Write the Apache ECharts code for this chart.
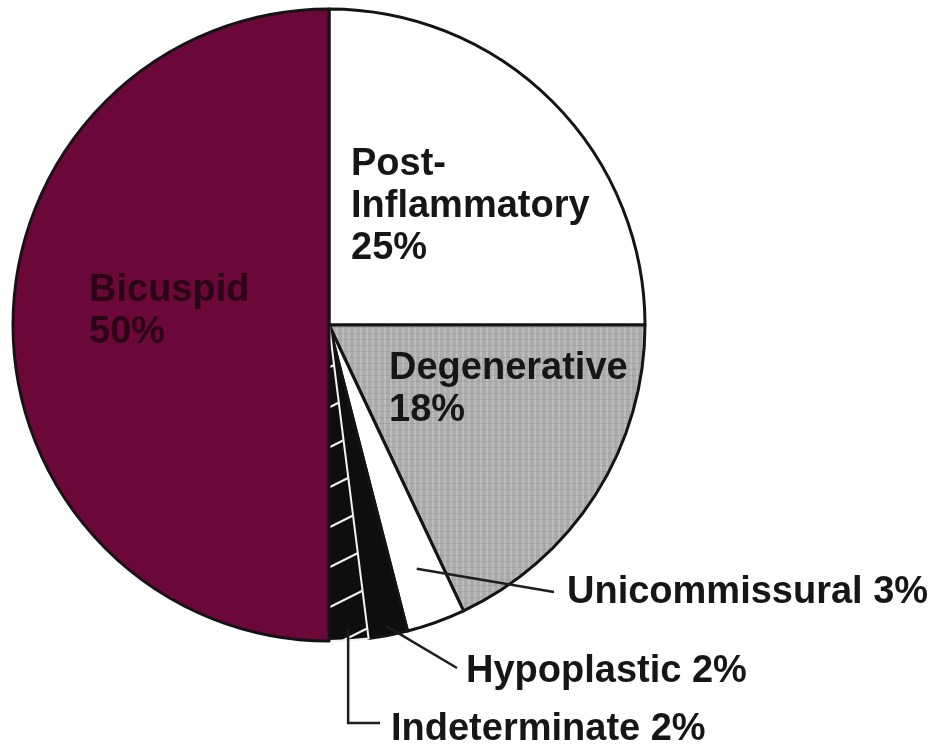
<!DOCTYPE html>
<html>
<head>
<meta charset="utf-8">
<script src="https://cdn.jsdelivr.net/npm/echarts@6/dist/echarts.min.js"></script>
<style>
  html, body { margin: 0; padding: 0; background: #ffffff; }
  #chart { width: 938px; height: 748px; }
</style>
</head>
<body>
<div id="chart"></div>
<script>
// Causes of aortic stenosis, percent of cases (clockwise from 12 o'clock)
const categories = ['Post-Inflammatory', 'Degenerative', 'Unicommissural', 'Hypoplastic', 'Indeterminate', 'Bicuspid'];
const shares = [25, 18, 3, 2, 2, 50];
const insideLabel = [true, true, false, false, false, true];

// ---- geometry & styling ----
const CX = 329, CY = 325, R = 316;
const FONT = '"Liberation Sans", Arial, Helvetica, sans-serif';
const INK = '#161616';

// fine grey screen used for the degenerative wedge
function greyScreen() {
  const c = document.createElement('canvas');
  c.width = 6; c.height = 6;
  const g = c.getContext('2d');
  g.fillStyle = '#acacac'; g.fillRect(0, 0, 6, 6);
  g.fillStyle = '#bcbcbc'; g.fillRect(0, 0, 2, 6);
  g.fillStyle = 'rgba(140,140,140,0.35)'; g.fillRect(0, 3, 6, 1);
  return c;
}

// black ground with slanted white strokes for the indeterminate wedge
function whiteHatch() {
  const w = 400, h = 40;
  const c = document.createElement('canvas');
  c.width = w; c.height = h;
  const g = c.getContext('2d');
  g.fillStyle = '#0e0e0e'; g.fillRect(0, 0, w, h);
  g.strokeStyle = '#f2f2f2'; g.lineWidth = 2.2;
  for (let k = -1; k <= 7; k++) {
    g.beginPath();
    g.moveTo(0, 12 + k * h);
    g.lineTo(w, 12 + k * h - w * 0.5);
    g.stroke();
  }
  return c;
}

const fills = [
  '#ffffff',
  { image: greyScreen(), repeat: 'repeat' },
  '#ffffff',
  '#0e0e0e',
  { image: whiteHatch(), repeat: 'repeat' },
  '#6b0839'
];

const total = shares.reduce((a, b) => a + b, 0);
// point on the middle ray of slice i, at a fraction of the radius
function midPoint(i, frac) {
  let before = 0;
  for (let k = 0; k < i; k++) before += shares[k];
  const theta = (before + shares[i] / 2) / total * 2 * Math.PI;
  return [CX + R * frac * Math.sin(theta), CY - R * frac * Math.cos(theta)];
}

// where each label's text begins (left edge, vertical middle) and its leader line
const labelSpots = {
  0: { x: 351, y: 207 },
  1: { x: 389, y: 390 },
  5: { x: 89, y: 312 },
  2: { x: 567, y: 593, lead: () => [midPoint(2, 0.82), [554, 592]] },
  3: { x: 466, y: 672, lead: () => [midPoint(3, 0.97), [457, 668]] },
  4: { x: 391, y: 730, lead: () => { const p = midPoint(4, 0.965); return [p, [p[0], 723], [380, 723]]; } }
};

const pieBase = {
  type: 'pie',
  center: [CX, CY],
  radius: R,
  startAngle: 90,
  clockwise: true,
  avoidLabelOverlap: false,
  silent: true
};

// slices
const sliceData = categories.map((name, i) => ({
  name: name,
  value: shares[i],
  itemStyle: i === 4
    ? { color: fills[i], borderColor: '#f2f2f2', borderWidth: 2 }
    : { color: fills[i] }
}));

// same slices, transparent, carrying the labels and leader lines on top
const labelData = categories.map((name, i) => ({
  name: name,
  value: shares[i],
  label: {
    position: insideLabel[i] ? 'inside' : 'outside',
    color: i === 5 ? '#2a0515' : INK
  },
  labelLine: {
    show: !insideLabel[i],
    lineStyle: { color: '#1e1e1e', width: 2.5 }
  }
}));

const chart = echarts.init(document.getElementById('chart'), null, { renderer: 'canvas' });
chart.setOption({
  backgroundColor: '#ffffff',
  animation: false,
  series: [
    Object.assign({}, pieBase, {
      z: 2,
      itemStyle: { borderColor: '#141414', borderWidth: 3 },
      label: { show: false },
      labelLine: { show: false },
      data: sliceData
    }),
    Object.assign({}, pieBase, {
      z: 5,
      itemStyle: { color: 'rgba(0,0,0,0)', borderWidth: 0 },
      label: {
        fontFamily: FONT,
        fontSize: 38,
        fontWeight: 'bold',
        lineHeight: 42,
        formatter: (p) => insideLabel[p.dataIndex]
          ? p.name.replace('Post-', 'Post-\n') + '\n' + p.value + '%'
          : p.name + ' ' + p.value + '%'
      },
      labelLayout: (p) => {
        const s = labelSpots[p.dataIndex];
        const out = { x: s.x, y: s.y, align: 'left', verticalAlign: 'middle' };
        if (s.lead) out.labelLinePoints = s.lead();
        return out;
      },
      data: labelData
    })
  ]
});
</script>
</body>
</html>
